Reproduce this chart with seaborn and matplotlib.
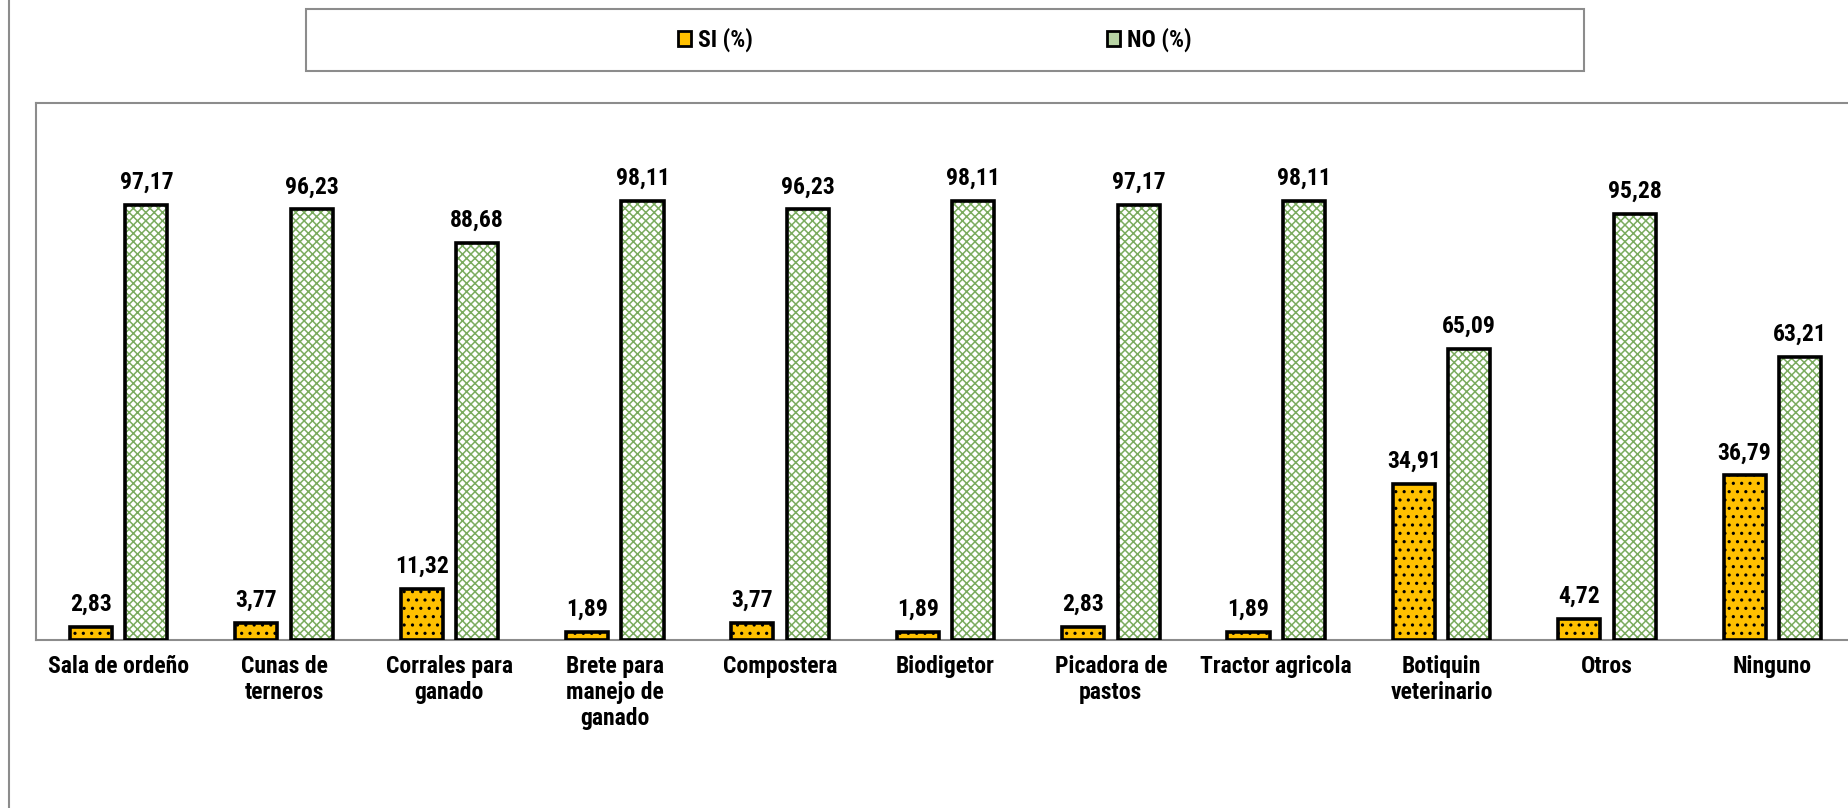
import matplotlib
matplotlib.use("Agg")
import matplotlib.pyplot as plt
from matplotlib import font_manager as fm
from matplotlib.patches import Rectangle, Patch
from matplotlib.lines import Line2D
import seaborn as sns
import pandas as pd

# Data
categories = ["Sala de ordeño", "Cunas de\nterneros", "Corrales para\nganado",
              "Brete para\nmanejo de\nganado", "Compostera", "Biodigetor",
              "Picadora de\npastos", "Tractor agricola", "Botiquin\nveterinario",
              "Otros", "Ninguno"]
si_values = [2.83, 3.77, 11.32, 1.89, 3.77, 1.89, 2.83, 1.89, 34.91, 4.72, 36.79]
no_values = [97.17, 96.23, 88.68, 98.11, 96.23, 98.11, 97.17, 98.11, 65.09, 95.28, 63.21]
series = ["SI (%)", "NO (%)"]

sns.set_style("white")
plt.rcParams['font.family'] = ['Liberation Sans', 'DejaVu Sans']
plt.rcParams['text.color'] = 'black'
plt.rcParams['hatch.linewidth'] = 1.1


def pick_font():
    """Look for a narrow bold face (the original uses Arial Narrow)."""
    prefs = ["Liberation Sans Narrow", "Arial Narrow", "Roboto Condensed",
             "Noto Sans Condensed", "Open Sans Condensed", "Noto Sans",
             "Open Sans", "Roboto", "Inter", "Lato"]
    narrow = []
    for f in fm.fontManager.ttflist:
        w = f.weight if isinstance(f.weight, int) else {"bold": 700}.get(f.weight, 400)
        is_narrow = ("Narrow" in f.name or "Condensed" in f.name
                     or f.stretch in ("condensed", "semi-condensed"))
        if is_narrow and 600 <= w <= 750 and f.style == "normal":
            narrow.append(f)
    for p in prefs:
        for f in narrow:
            if f.name.startswith(p):
                return fm.FontProperties(fname=f.fname), True
    if narrow:
        return fm.FontProperties(fname=narrow[0].fname), True
    return fm.FontProperties(family="Liberation Sans", weight="bold"), False


FONT, IS_NARROW = pick_font()
FS = 17 if IS_NARROW else 13.5

GOLD = "#FFC000"
GREEN = "#7AAB5E"
GRAY = "#8C8C8C"

df = pd.DataFrame({
    "cat": categories * 2,
    "val": si_values + no_values,
    "serie": [series[0]] * len(categories) + [series[1]] * len(categories),
})

W, H = 1848, 808
fig = plt.figure(figsize=(W / 100, H / 100), dpi=100)
ax = fig.add_axes([36 / W, (H - 640) / H, (1855 - 36) / W, (640 - 103) / H])

sns.barplot(data=df, x="cat", y="val", hue="serie", hue_order=series,
            palette=[GOLD, "white"], saturation=1, width=0.67, gap=0.24,
            legend=False, ax=ax)

# hatch patterns: colour the hatch via the edge, then add black outlines on top
styles = [("..", "black", GOLD), ("xxxx", GREEN, "white")]
for cont, (hatch, hcol, fcol) in zip(ax.containers, styles):
    for p in cont:
        p.set_facecolor(fcol)
        p.set_hatch(hatch)
        p.set_edgecolor(hcol)
        p.set_linewidth(0)
        ax.add_patch(Rectangle(p.get_xy(), p.get_width(), p.get_height(),
                               fill=False, edgecolor="black", lw=2.6, zorder=3))

for cont, vals in zip(ax.containers, [si_values, no_values]):
    labels = ax.bar_label(cont, labels=[f"{v:.2f}".replace(".", ",") for v in vals],
                          padding=8)
    for t in labels:
        t.set_fontproperties(FONT)
        t.set_fontsize(FS)

ax.set_xlim(-0.5, len(categories) - 0.5)
ax.set_ylim(0, 120)
ax.set_yticks([])
ax.set_xlabel("")
ax.set_ylabel("")
ax.tick_params(axis="x", length=0, pad=11, labelcolor="black")
for lbl in ax.get_xticklabels():
    lbl.set_fontproperties(FONT)
    lbl.set_fontsize(FS)
    lbl.set_linespacing(1.15)

for side in ["left", "top", "bottom"]:
    ax.spines[side].set_color(GRAY)
    ax.spines[side].set_linewidth(1.5)
ax.spines["right"].set_visible(False)

# outer left border of the chart area
fig.add_artist(Line2D([9 / W, 9 / W], [0, 1], color=GRAY, lw=1.5,
                      transform=fig.transFigure))

# legend box
fig.add_artist(Rectangle((306 / W, 1 - 71 / H), (1584 - 306) / W, 62 / H,
                         transform=fig.transFigure, fill=False,
                         edgecolor=GRAY, lw=1.5))
handles = [Patch(facecolor=GOLD, edgecolor="black", lw=2, label=series[0]),
           Patch(facecolor="#B8D4A4", edgecolor="black", lw=2, label=series[1])]
leg_font = FONT.copy()
leg_font.set_size(FS)
fig.legend(handles=handles, loc="center", bbox_to_anchor=(935 / W, 1 - 40 / H),
           ncol=2, frameon=False, prop=leg_font, handlelength=0.55,
           handleheight=0.55, handletextpad=0.3, columnspacing=15.0)

fig.savefig("out.png", dpi=100)
plt.close(fig)
